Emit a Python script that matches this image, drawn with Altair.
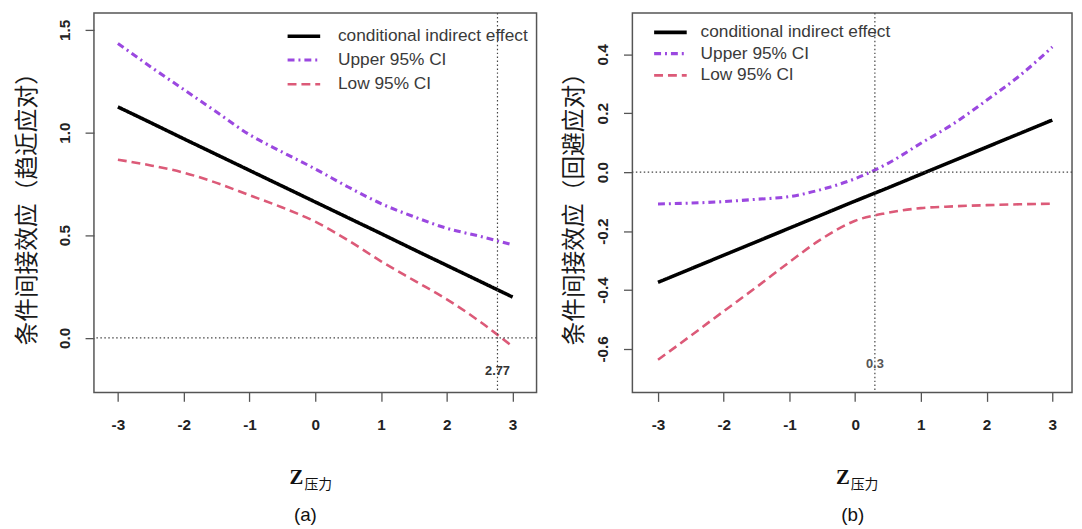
import altair as alt
import pandas as pd

# ---------------- data ----------------
Z = [-3, -2.5, -2, -1.5, -1, -0.5, 0, 0.5, 1, 1.5, 2, 2.5, 3]

# panel (a): approach coping
A_EFFECT = [1.125, 1.048, 0.970, 0.893, 0.816, 0.739, 0.662, 0.585, 0.508, 0.430, 0.353, 0.276, 0.199]
A_UPPER = [1.434, 1.320, 1.210, 1.100, 0.990, 0.905, 0.823, 0.735, 0.654, 0.590, 0.534, 0.495, 0.453]
A_LOW = [0.868, 0.840, 0.805, 0.755, 0.695, 0.635, 0.566, 0.475, 0.373, 0.280, 0.188, 0.080, -0.042]

# panel (b): avoidance coping
B_EFFECT = [-0.374, -0.328, -0.282, -0.236, -0.190, -0.144, -0.098, -0.053, -0.007, 0.039, 0.085, 0.131, 0.177]
B_UPPER = [-0.108, -0.105, -0.100, -0.092, -0.083, -0.058, -0.022, 0.030, 0.098, 0.165, 0.244, 0.327, 0.425]
B_LOW = [-0.637, -0.555, -0.472, -0.390, -0.305, -0.225, -0.165, -0.138, -0.122, -0.116, -0.112, -0.109, -0.107]

SERIES = ["conditional indirect effect", "Upper 95% CI", "Low 95% CI"]
COLORS = ["#000000", "#9b48e0", "#dc5a78"]
DASHES = [[1, 0], [7, 4, 2, 4], [9, 5]]
WIDTHS = [3.6, 2.6, 2.6]

X_TICKS = [-3, -2, -1, 0, 1, 2, 3]
A_Y_TICKS = [0.0, 0.5, 1.0, 1.5]
B_Y_TICKS = [-0.6, -0.4, -0.2, 0.0, 0.2, 0.4]

A_CUT, A_CUT_LABEL, A_CUT_Y = 2.77, "2.77", -0.16
B_CUT, B_CUT_LABEL, B_CUT_Y = 0.3, "0.3", -0.652

A_YTITLE = "条件间接效应（趋近应对）"
B_YTITLE = "条件间接效应（回避应对）"

LABEL_EXPR = "datum.value < 0 ? '-' + format(-datum.value, '{f}') : format(datum.value, '{f}')"


def long_table(eff, up, low):
    rows = []
    for name, vals in zip(SERIES, [eff, up, low]):
        for z, v in zip(Z, vals):
            rows.append({"z": z, "v": v, "s": name})
    return pd.DataFrame(rows)


def panel(eff, up, low, xdom, ydom, yticks, ytitle, width, height,
          cut, cut_label, cut_y, cut_color, title_pad,
          leg_x, leg_y, row_pad, label_off, z_x, sub_x, cap, cap_x):
    df = long_table(eff, up, low)
    xs = alt.Scale(domain=xdom, nice=False, zero=False)
    ys = alt.Scale(domain=ydom, nice=False, zero=False)
    xaxis = alt.Axis(values=X_TICKS, labelExpr=LABEL_EXPR.format(f="d"), title=None,
                     labelPadding=16, labelAngle=0)
    yaxis = alt.Axis(values=yticks, labelExpr=LABEL_EXPR.format(f=".1f"), title=ytitle,
                     labelAngle=-90, labelAlign="center", labelBaseline="bottom",
                     labelPadding=13, titlePadding=title_pad,
                     titleFont="Noto Sans CJK SC", titleFontSize=24,
                     titleFontWeight="normal", titleColor="#1a1a1a")
    leg = alt.Legend(title=None, orient="none", legendX=leg_x, legendY=leg_y,
                     symbolType="M-2,0H2", symbolSize=272, symbolStrokeWidth=1.6,
                     labelFont="Liberation Sans", labelFontSize=17.5, labelColor="#3a3a3a",
                     labelOffset=label_off, rowPadding=row_pad, padding=0, labelLimit=0)
    lines = alt.Chart(df).mark_line(interpolate="monotone", clip=True).encode(
        x=alt.X("z:Q", scale=xs, axis=xaxis),
        y=alt.Y("v:Q", scale=ys, axis=yaxis),
        color=alt.Color("s:N", scale=alt.Scale(domain=SERIES, range=COLORS), legend=leg, sort=SERIES),
        strokeDash=alt.StrokeDash("s:N", scale=alt.Scale(domain=SERIES, range=DASHES), legend=leg, sort=SERIES),
        strokeWidth=alt.StrokeWidth("s:N", scale=alt.Scale(domain=SERIES, range=WIDTHS), legend=None),
    )
    one = pd.DataFrame({"t": [cut_label]})
    vrule = alt.Chart(one).mark_rule(
        color="#444", strokeWidth=1.2, strokeDash=[1.5, 2.5]).encode(x=alt.datum(cut))
    hrule = alt.Chart(one).mark_rule(
        color="#444", strokeWidth=1.2, strokeDash=[1.5, 2.5]).encode(y=alt.datum(0.0))
    cut_text = alt.Chart(one).mark_text(
        font="Liberation Sans", fontWeight="bold", fontSize=13, color=cut_color,
        align="center", baseline="middle").encode(
        x=alt.datum(cut), y=alt.datum(cut_y), text="t:N")
    z_text = alt.Chart(pd.DataFrame({"t": ["Z"]})).mark_text(
        font="Liberation Serif", fontWeight="bold", fontSize=21, color="#111",
        align="center", baseline="middle").encode(
        x=alt.value(z_x), y=alt.value(471), text="t:N")
    sub_text = alt.Chart(pd.DataFrame({"t": ["压力"]})).mark_text(
        font="Noto Sans CJK SC", fontSize=14, color="#111",
        align="center", baseline="middle").encode(
        x=alt.value(sub_x), y=alt.value(478), text="t:N")
    cap_text = alt.Chart(pd.DataFrame({"t": [cap]})).mark_text(
        font="Liberation Sans", fontSize=19, color="#111",
        align="center", baseline="middle").encode(
        x=alt.value(cap_x), y=alt.value(508), text="t:N")
    return alt.layer(lines, vrule, hrule, cut_text, z_text, sub_text, cap_text).properties(
        width=width, height=height)


left = panel(A_EFFECT, A_UPPER, A_LOW, [-3.364, 3.364], [-0.266, 1.582], A_Y_TICKS, A_YTITLE,
             448, 384, A_CUT, A_CUT_LABEL, A_CUT_Y, "#333", 18,
             202, 13, 5.5, 24, 205, 227, "(a)", 214)
right = panel(B_EFFECT, B_UPPER, B_LOW, [-3.39, 3.30], [-0.748, 0.540], B_Y_TICKS, B_YTITLE,
              445, 384, B_CUT, B_CUT_LABEL, B_CUT_Y, "#555", 10,
              28, 9, 3, 20, 213, 235, "(b)", 223)

chart = alt.hconcat(left, right, spacing=97, bounds="flush").resolve_scale(
    x="independent", y="independent", color="independent",
    strokeDash="independent", strokeWidth="independent"
).resolve_legend(color="independent", strokeDash="independent").properties(
    padding={"left": 7, "top": 0, "right": 0, "bottom": 0}
).configure_view(
    stroke="#555", strokeWidth=1.5
).configure_axis(
    grid=False, domain=False, tickColor="#555", tickWidth=1.3, tickSize=9,
    labelFont="Liberation Sans", labelFontWeight="bold", labelFontSize=15.5, labelColor="#222"
)

chart.save("out.html", embed_options={"renderer": "svg", "actions": False})
